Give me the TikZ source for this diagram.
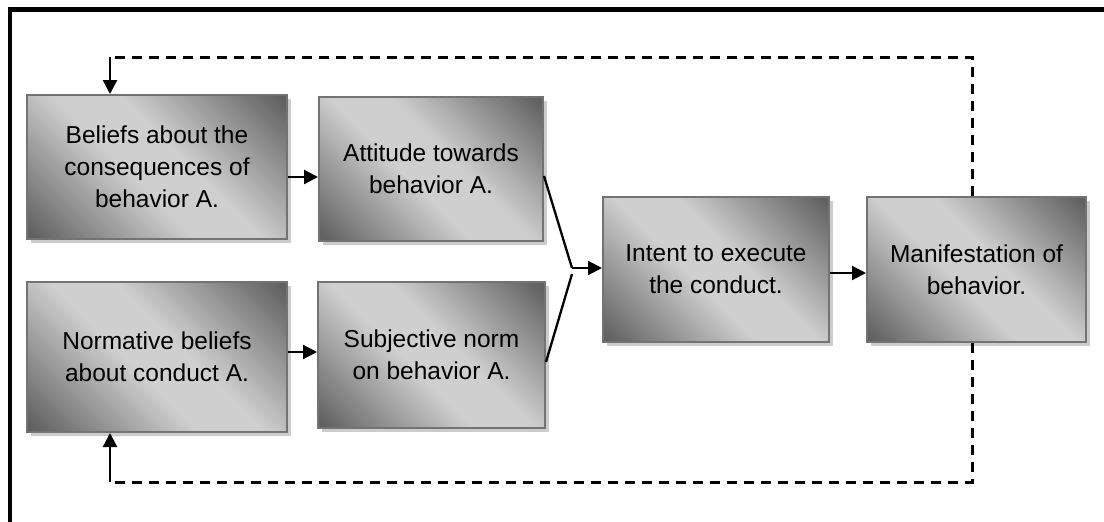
\documentclass[tikz,border=0pt]{standalone}
\usepackage{fontspec}
\setmainfont{Liberation Sans}
\usetikzlibrary{arrows.meta,shadows}
\definecolor{dk}{gray}{0.38}
\definecolor{lt}{gray}{0.81}
\definecolor{edge}{gray}{0.45}
\definecolor{shad}{gray}{0.80}
\pgfdeclareverticalshading{boxsh}{100bp}{color(0bp)=(dk); color(16bp)=(dk); color(44bp)=(lt); color(56bp)=(lt); color(84bp)=(dk); color(100bp)=(dk)}
\begin{document}
\begin{tikzpicture}[x=1pt,y=-1pt,
  box/.style={draw=edge, line width=2pt, shading=boxsh, shading angle=-45,
    align=center, font=\fontsize{24.5}{32}\selectfont, inner sep=0pt,
    drop shadow={shadow xshift=4pt, shadow yshift=-4pt, fill=shad, opacity=1, draw=none}},
  arr/.style={line width=2.3pt, -{Triangle[length=14pt,width=14pt]}},
  conn/.style={line width=2.3pt},
  fb/.style={line width=3pt, dash pattern=on 10pt off 7pt}]
\useasboundingbox (0,0) rectangle (1104,522);
\fill[white] (0,0) rectangle (1104,522);
% frame
\draw[line width=4.5pt] (10,522) -- (10,9.5) -- (1104,9.5);
% boxes
\node[box, minimum width=260pt, minimum height=144pt] (b1) at (157,167) {Beliefs about the\\consequences of\\behavior A.};
\node[box, minimum width=224pt, minimum height=144pt] (b2) at (431,169) {Attitude towards\\behavior A.};
\node[box, minimum width=260pt, minimum height=150pt] (b3) at (157,357) {Normative beliefs\\about conduct A.};
\node[box, minimum width=227pt, minimum height=146pt] (b4) at (431.5,355) {Subjective norm\\on behavior A.};
\node[box, minimum width=226pt, minimum height=145pt] (b5) at (716,269.5) {\raisebox{15pt}{\parbox{220pt}{\centering Intent to execute\\the conduct.}}};
\node[box, minimum width=219pt, minimum height=145pt] (b6) at (976.5,269.5) {Manifestation of\\behavior.};
% helper coordinates
\coordinate (y1) at (0,177);
\coordinate (y3) at (0,352);
\coordinate (ya) at (0,176);
\coordinate (yb) at (0,362);
\coordinate (m1) at (572,268);
\coordinate (m2) at (572,274);
\coordinate (y5) at (0,273);
\coordinate (tl) at (110,57);
\coordinate (tr) at (972,57);
\coordinate (bl) at (110,482);
\coordinate (br) at (972,482);
% arrows
\draw[arr] (b1.east |- y1) -- (b2.west |- y1);
\draw[arr] (b3.east |- y3) -- (b4.west |- y3);
\draw[conn] (b2.east |- ya) -- (m1);
\draw[conn] (b4.east |- yb) -- (m2);
\draw[arr] (m1) -- (b5.west |- m1);
\draw[arr] (b5.east |- y5) -- (b6.west |- y5);
% feedback
\draw[fb] (b6.north -| tr) -- (tr) -- (tl);
\draw[arr] (tl) -- (b1.north -| tl);
\draw[fb] (b6.south -| br) -- (br) -- (bl);
\draw[arr] (bl) -- (b3.south -| bl);
\end{tikzpicture}
\end{document}
